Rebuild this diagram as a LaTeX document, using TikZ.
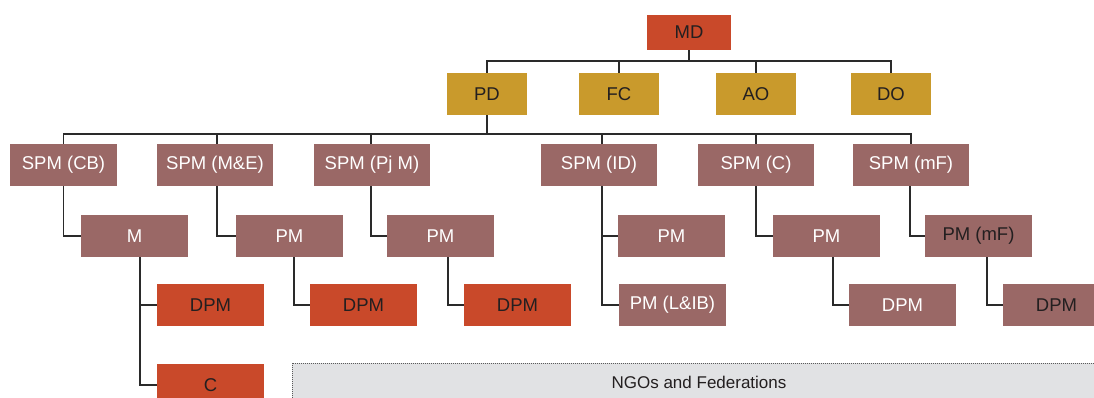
\documentclass[tikz,border=0pt]{standalone}
\usepackage{fontspec}
\setmainfont{Liberation Sans}
\definecolor{mdred}{HTML}{C9492A}
\definecolor{gold}{HTML}{C99A2C}
\definecolor{mauve}{HTML}{9A6866}
\definecolor{ink}{HTML}{231F20}
\definecolor{linec}{HTML}{2A2A2A}
\definecolor{ngofill}{HTML}{E1E2E4}
\definecolor{ngoline}{HTML}{5A5A5A}
\tikzset{
  box/.style={rectangle, inner sep=0pt, minimum height=42pt, minimum width=107pt,
    font=\fontsize{18.5}{20}\selectfont},
  redbox/.style={box, fill=mdred, text=ink},
  goldbox/.style={box, fill=gold, text=ink, minimum width=80pt},
  spmbox/.style={box, fill=mauve, text=white, minimum width=116pt},
  pmbox/.style={box, fill=mauve, text=white},
  pmdark/.style={box, fill=mauve, text=ink},
  conn/.style={draw=linec, line width=1.2pt},
}
\begin{document}
\begin{tikzpicture}[x=1pt, y=-1pt]
\useasboundingbox (0,0) rectangle (1094,398);
\clip (0,0) rectangle (1094,398);

% top level
\node[redbox, minimum width=84pt, minimum height=35pt] (md) at (689,32.5) {MD};

% directors row
\node[goldbox] (pd) at (487,94) {PD};
\node[goldbox] (fc) at (619,94) {FC};
\node[goldbox] (ao) at (756,94) {AO};
\node[goldbox] (do) at (891,94) {DO};

% senior programme managers
\node[pmbox]  (cb)  at (63.5,165) {SPM (CB)};
\node[spmbox] (me)  at (215,165) {SPM (M\&E)};
\node[spmbox] (pj)  at (372,165) {SPM (Pj M)};
\node[spmbox] (id)  at (599,165) {SPM (ID)};
\node[spmbox] (sc)  at (756,165) {SPM (C)};
\node[spmbox] (smf) at (911,165) {SPM (mF)};

% managers
\node[pmbox]  (m)    at (134.5,236) {M};
\node[pmbox]  (pm1)  at (289.5,236) {PM};
\node[pmbox]  (pm2)  at (440.5,236) {PM};
\node[pmbox]  (pmid) at (671.5,236) {PM};
\node[pmbox]  (pmc)  at (826.5,236) {PM};
\node[pmdark] (pmmf) at (978.5,236) {PM (mF)};

% deputies
\node[redbox] (dpm1)  at (210.5,305) {DPM};
\node[redbox] (dpm2)  at (363.5,305) {DPM};
\node[redbox] (dpm3)  at (517.5,305) {DPM};
\node[pmbox]  (pmlib) at (672.5,305) {PM (L\&IB)};
\node[pmbox]  (dpmc)  at (902.5,305) {DPM};
\node[pmdark] (dpmmf) at (1056.5,305) {DPM};

\node[redbox] (c) at (210.5,385) {C};

% partner band
\node[rectangle, inner sep=0pt, fill=ngofill, draw=ngoline, line width=1pt,
      dash pattern=on 1pt off 1pt, minimum width=814pt, minimum height=38pt,
      text=ink, font=\fontsize{17}{19}\selectfont] (ngo) at (699,382) {NGOs and Federations};

% buses
\coordinate (b1) at (0,61);
\coordinate (b2) at (0,134);

\draw[conn] (md.south) -- (md.south |- b1);
\draw[conn] (pd.north) -- (pd.north |- b1) -- (do.north |- b1) -- (do.north);
\draw[conn] (fc.north) -- (fc.north |- b1);
\draw[conn] (ao.north) -- (ao.north |- b1);

\draw[conn] (pd.south) -- (pd.south |- b2);
\draw[conn] (cb.north) -- (cb.north |- b2) -- (smf.north |- b2) -- (smf.north);
\draw[conn] ([xshift=2pt]me.north) -- ([xshift=2pt]me.north |- b2);
\draw[conn] ([xshift=-1pt]pj.north) -- ([xshift=-1pt]pj.north |- b2);
\draw[conn] ([xshift=3pt]id.north) -- ([xshift=3pt]id.north |- b2);
\draw[conn] (sc.north) -- (sc.north |- b2);

% elbows to managers
\draw[conn] (cb.south) |- (m.west);
\draw[conn] ([xshift=2pt]me.south) |- (pm1.west);
\draw[conn] ([xshift=-1pt]pj.south) |- (pm2.west);
\draw[conn] ([xshift=3pt]id.south) |- (pmid.west);
\draw[conn] ([xshift=3pt]id.south) |- (pmlib.west);
\draw[conn] (sc.south) |- (pmc.west);
\draw[conn] ([xshift=-1pt]smf.south) |- (pmmf.west);

% elbows to deputies
\draw[conn] ([xshift=5.5pt]m.south) |- (dpm1.west);
\draw[conn] ([xshift=5.5pt]m.south) |- (c.west);
\draw[conn] ([xshift=4.5pt]pm1.south) |- (dpm2.west);
\draw[conn] ([xshift=7.5pt]pm2.south) |- (dpm3.west);
\draw[conn] ([xshift=6.5pt]pmc.south) |- (dpmc.west);
\draw[conn] ([xshift=8.5pt]pmmf.south) |- (dpmmf.west);
\end{tikzpicture}
\end{document}
